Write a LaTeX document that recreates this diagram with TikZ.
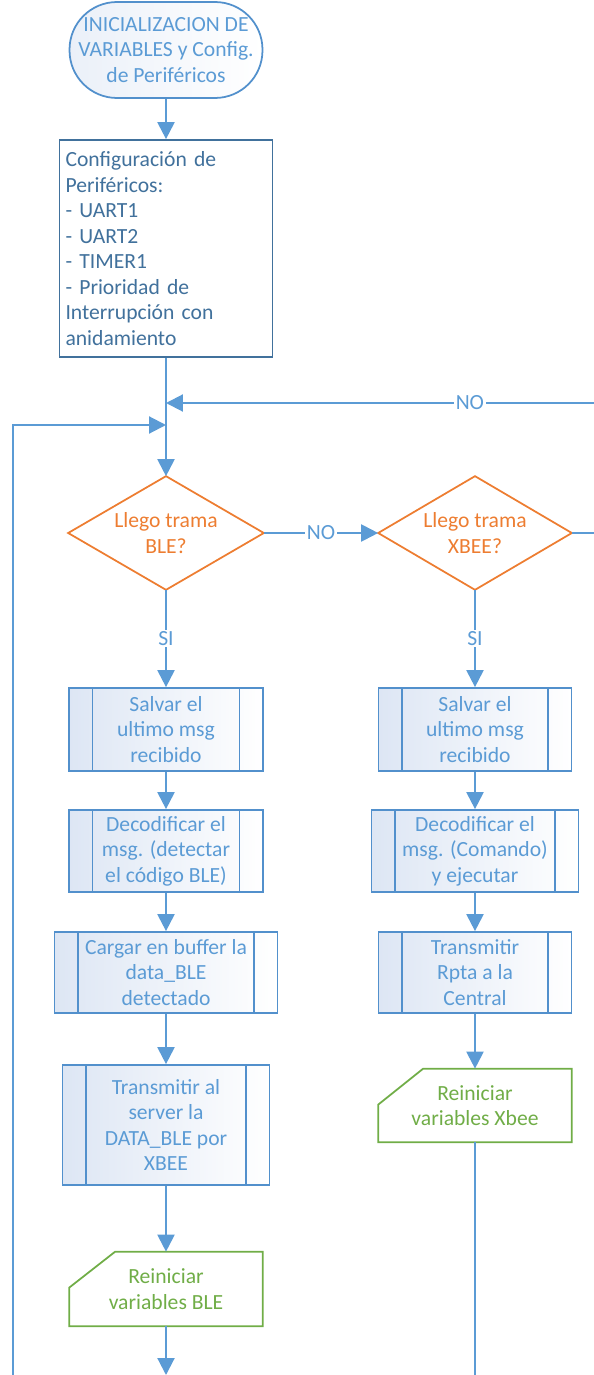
\documentclass[tikz,border=0pt]{standalone}
\usepackage{fontspec}
\setmainfont{Carlito}
\usetikzlibrary{arrows.meta}
\definecolor{lineblue}{HTML}{5B9BD5}
\definecolor{boxblue}{HTML}{5290CC}
\definecolor{darkblue}{HTML}{41719C}
\definecolor{fillblue}{HTML}{DDE6F4}
\definecolor{orangeline}{HTML}{ED7D31}
\definecolor{greenline}{HTML}{70AD47}
\newcommand{\flowfont}{\fontsize{12.3}{14.5}\selectfont}
\tikzset{
  flow/.style={draw=lineblue,line width=1.2pt},
  arr/.style={flow,-{Triangle[length=0.34cm,width=0.34cm]}},
  lbl/.style={fill=white,text=lineblue,inner sep=1pt,font=\flowfont},
  term/.style={rectangle,rounded corners=0.95cm,draw=boxblue,line width=1pt,
    left color=fillblue!60,right color=white,text=lineblue,align=center,
    font=\flowfont,minimum width=3.86cm,minimum height=1.92cm,inner sep=0pt},
  cfgbox/.style={rectangle,draw=darkblue,line width=1pt,fill=white,text=darkblue,
    align=left,text width=4.02cm,inner xsep=0.12cm,minimum height=4.34cm,font=\flowfont},
  decision/.style={rectangle,text=orangeline,align=center,inner sep=0pt,font=\flowfont},
  decline/.style={draw=orangeline,line width=1pt,line join=miter},
  subproc/.style={rectangle,draw=boxblue,line width=1pt,left color=fillblue,right color=white,
    text=lineblue,align=center,font=\flowfont,inner sep=0pt,
    path picture={\draw[boxblue,line width=1pt]
      ([xshift=#1]path picture bounding box.north west) -- ([xshift=#1]path picture bounding box.south west)
      ([xshift=-#1]path picture bounding box.north east) -- ([xshift=-#1]path picture bounding box.south east);}},
  subproc/.default=0.47cm,
  card/.style={rectangle,text=greenline,align=center,font=\flowfont,inner sep=0pt},
  cardline/.style={draw=greenline,line width=1pt}
}
\begin{document}
\begin{tikzpicture}[x=0.02cm,y=-0.02cm]
\useasboundingbox (0,0) rectangle (594,1375);
% inicio y configuracion
\node[term] (inicio) at (166,50) {INICIALIZACION DE\\VARIABLES y Config.\\de Periféricos};
\node[cfgbox] (config) at (166,248.5) {Configuración de\\Periféricos:\\- UART1\\- UART2\\- TIMER1\\- Prioridad de\\Interrupción con\\anidamiento};
\coordinate (joinA) at (166,403);
\coordinate (joinB) at (166,425);
% decisiones
\node[decision,minimum width=3.9cm,minimum height=2.26cm] (dBLE) at (166,533) {Llego trama\\BLE?};
\draw[decline] (dBLE.north) -- (dBLE.east) -- (dBLE.south) -- (dBLE.west) -- cycle;
\node[decision,minimum width=3.86cm,minimum height=2.26cm] (dXBEE) at (475,533) {Llego trama\\XBEE?};
\draw[decline] (dXBEE.north) -- (dXBEE.east) -- (dXBEE.south) -- (dXBEE.west) -- cycle;
\coordinate (redge) at (594,533);
\coordinate (rtop) at (594,403);
\coordinate (lbot) at (13,1375);
% rama BLE
\node[subproc,minimum width=3.88cm,minimum height=1.66cm] (salvB) at (166,729.5) {Salvar el\\ultimo msg\\recibido};
\node[subproc,minimum width=3.88cm,minimum height=1.64cm] (decB) at (166,851) {Decodificar el\\msg. (detectar\\el código BLE)};
\node[subproc,minimum width=4.46cm,minimum height=1.62cm] (carB) at (166,972.5) {Cargar en buffer la\\data\_BLE\\detectado};
\node[subproc,minimum width=4.14cm,minimum height=2.4cm] (traB) at (166,1125) {Transmitir al\\server la\\DATA\_BLE por\\XBEE};
\node[card,minimum width=3.86cm,minimum height=1.48cm] (reiB) at (166,1289) {Reiniciar\\variables BLE};
\draw[cardline] ([xshift=0.92cm]reiB.north west) -- (reiB.north east) -- (reiB.south east)
  -- (reiB.south west) -- ([yshift=-0.72cm]reiB.north west) -- cycle;
\coordinate (bB) at (166,1375);
% rama XBEE
\node[subproc,minimum width=3.86cm,minimum height=1.66cm] (salvX) at (475,729.5) {Salvar el\\ultimo msg\\recibido};
\node[subproc,minimum width=4.14cm,minimum height=1.64cm] (decX) at (475,851) {Decodificar el\\msg. (Comando)\\y ejecutar};
\node[subproc,minimum width=3.86cm,minimum height=1.62cm] (traX) at (475,972.5) {Transmitir\\Rpta a la\\Central};
\node[card,minimum width=3.86cm,minimum height=1.46cm] (reiX) at (475,1105.5) {Reiniciar\\variables Xbee};
\draw[cardline] ([xshift=0.9cm]reiX.north west) -- (reiX.north east) -- (reiX.south east)
  -- (reiX.south west) -- ([yshift=-0.72cm]reiX.north west) -- cycle;
\coordinate (bX) at (475,1375);
% conectores
\draw[arr] (inicio) -- (config);
\draw[arr] (config) -- (dBLE.north);
\draw[arr] (rtop) -- node[lbl,pos=0.29] {NO} (joinA);
\draw[arr] (lbot) |- (joinB);
\draw[arr] (dBLE.east) -- node[lbl] {NO} (dXBEE.west);
\draw[flow] (dXBEE.east) -- (redge);
\draw[arr] (dBLE.south) -- node[lbl] {SI} (salvB);
\draw[arr] (salvB) -- (decB);
\draw[arr] (decB) -- (carB);
\draw[arr] (carB) -- (traB);
\draw[arr] (traB) -- (reiB.north);
\draw[arr] (reiB.south) -- (bB);
\draw[arr] (dXBEE.south) -- node[lbl] {SI} (salvX);
\draw[arr] (salvX) -- (decX);
\draw[arr] (decX) -- (traX);
\draw[arr] (traX) -- (reiX.north);
\draw[flow] (reiX.south) -- (bX);
\end{tikzpicture}
\end{document}
